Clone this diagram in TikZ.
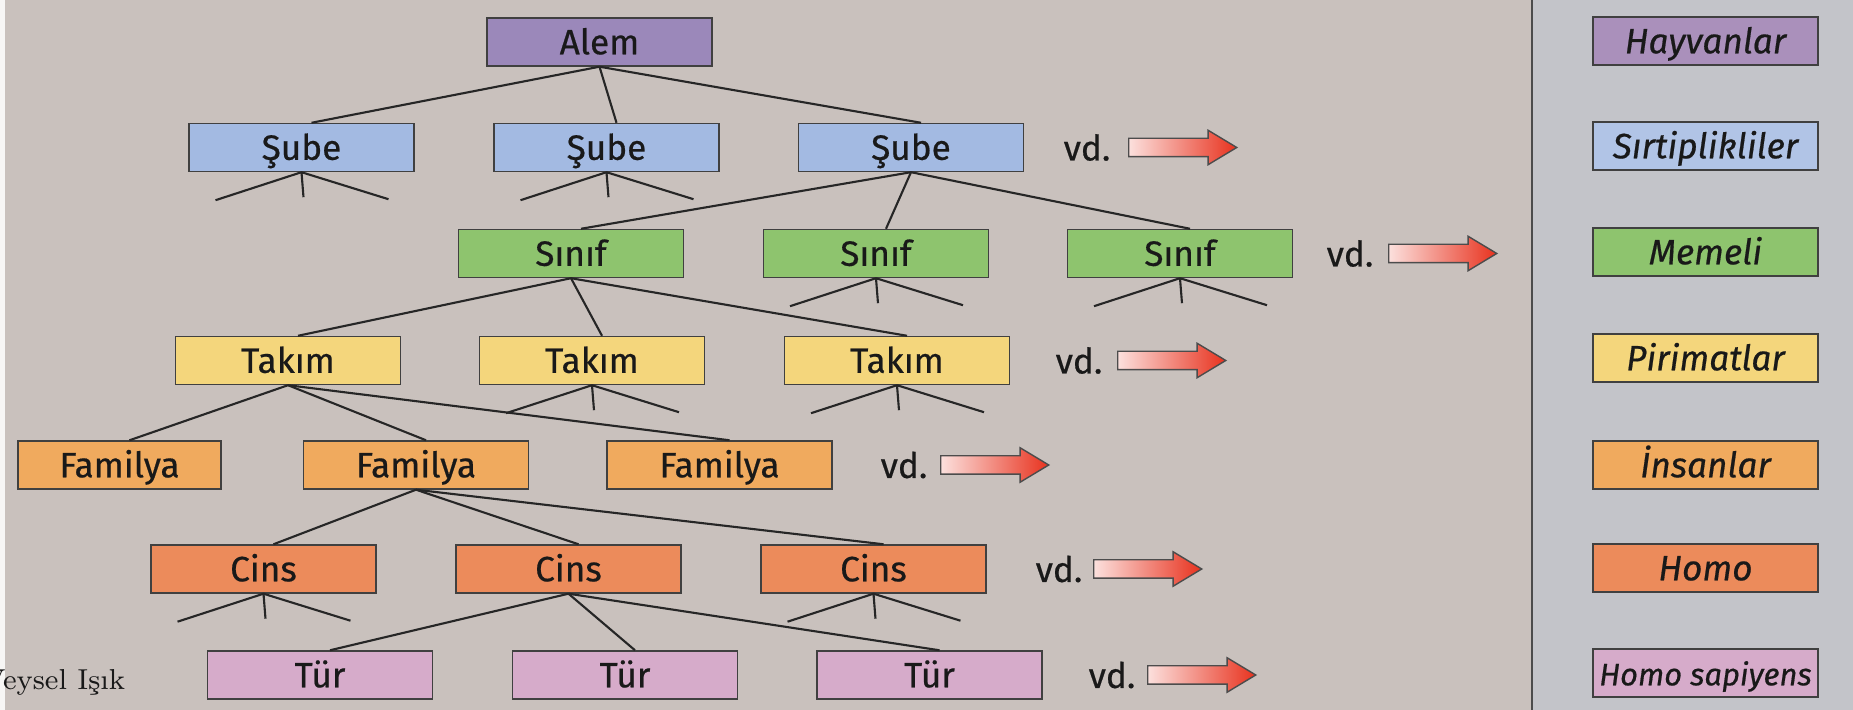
\documentclass[tikz,border=0pt]{standalone}
\usepackage{fontspec}
\usetikzlibrary{shapes.arrows}
\newfontfamily\boxfont{Fira Sans}[FakeBold=0.5]

\definecolor{bg}{HTML}{C9C1BD}
\definecolor{panel}{HTML}{C3C4C9}
\definecolor{alemc}{HTML}{9B88BA}
\definecolor{subec}{HTML}{A3BAE2}
\definecolor{sinifc}{HTML}{8EC46E}
\definecolor{takimc}{HTML}{F4D67C}
\definecolor{familc}{HTML}{F0AA5E}
\definecolor{cinsc}{HTML}{EC8B5B}
\definecolor{turc}{HTML}{D6ABCA}
\definecolor{vdred}{HTML}{E8321E}

\begin{document}
\begin{tikzpicture}[x=0.01cm, y=-0.01cm,
    every node/.style={font=\boxfont\fontsize{10}{12}\selectfont, text=black!90},
    box/.style={draw=black!75, line width=0.4pt, minimum width=2.25cm, minimum height=0.48cm,
        inner sep=0pt, text height=8pt, text depth=1pt},
    leg/.style={box, font=\boxfont\itshape\fontsize{10}{12}\selectfont},
    tline/.style={line width=0.6pt, black!85},
    vd/.style={anchor=west, inner sep=0pt},
    more/.style={single arrow, anchor=west, draw=black!70, line width=0.4pt,
        left color=white!85!vdred, right color=vdred, inner xsep=0pt, inner ysep=0.085cm,
        minimum height=1.08cm, single arrow head extend=0.08cm, single arrow tip angle=62}]

    \useasboundingbox (0,0) rectangle (1853,710);
    \fill[bg] (0,0) rectangle (1533,710);
    \fill[panel] (1533,0) rectangle (1853,710);
    \fill[white!85!bg] (0,0) rectangle (5,710);
    \draw[line width=0.7pt, black!70] (1532,0) -- (1532,710);

    \node[box, fill=alemc] (al) at (599.5,42) {Alem};

    \node[box, fill=subec] (sb1) at (301.5,147.5) {Şube};
    \node[box, fill=subec] (sb2) at (606.5,147.5) {Şube};
    \node[box, fill=subec] (sb3) at (911,147.5) {Şube};

    \node[box, fill=sinifc] (sf1) at (571,253.5) {Sınıf};
    \node[box, fill=sinifc] (sf2) at (876,253.5) {Sınıf};
    \node[box, fill=sinifc] (sf3) at (1180,253.5) {Sınıf};

    \node[box, fill=takimc] (tk1) at (288,360.5) {Takım};
    \node[box, fill=takimc] (tk2) at (592,360.5) {Takım};
    \node[box, fill=takimc] (tk3) at (897,360.5) {Takım};

    \node[box, fill=familc, minimum width=2.03cm] (fm1) at (119.5,465) {Familya};
    \node[box, fill=familc] (fm2) at (416,465) {Familya};
    \node[box, fill=familc] (fm3) at (719.5,465) {Familya};

    \node[box, fill=cinsc] (cn1) at (263.5,569) {Cins};
    \node[box, fill=cinsc] (cn2) at (568.5,569) {Cins};
    \node[box, fill=cinsc] (cn3) at (873.5,569) {Cins};

    \node[box, fill=turc] (tr1) at (320,675) {Tür};
    \node[box, fill=turc] (tr2) at (625,675) {Tür};
    \node[box, fill=turc] (tr3) at (929.5,675) {Tür};

    % tree
    \foreach \p/\cs in {al/{sb1,sb2,sb3}, sb3/{sf1,sf2,sf3}, sf1/{tk1,tk2,tk3},
                        tk1/{fm1,fm2,fm3}, fm2/{cn1,cn2,cn3}, cn2/{tr1,tr2,tr3}}
        \foreach \c in \cs
            \draw[tline] (\p.south) -- ([xshift=0.1cm]\c.north);

    \foreach \n in {sb1,sb2,sf2,sf3,tk2,tk3,cn1,cn3}
        \draw[tline] (\n.south) -- +(-86,28) (\n.south) -- +(2,25) (\n.south) -- +(87,27);

    % vd.
    \node[vd] (v2) at (1063,147.5) {vd.};
    \node[vd] (v3) at (1326,253.5) {vd.};
    \node[vd] (v4) at (1055,360.5) {vd.};
    \node[vd] (v5) at (880,465) {vd.};
    \node[vd] (v6) at (1035,569) {vd.};
    \node[vd] (v7) at (1088,675) {vd.};

    \node[more] (m2) at (1128,147.5) {};
    \node[more] (m3) at (1388,253.5) {};
    \node[more] (m4) at (1117,360.5) {};
    \node[more] (m5) at (940,465) {};
    \node[more] (m6) at (1093,569) {};
    \node[more] (m7) at (1147,675) {};

    % legend
    \node[leg, fill=alemc!85!pink] (l1) at (1705.5,41) {Hayvanlar};
    \node[leg, fill=subec!85!white] (l2) at (1705.5,146) {Sırtiplikliler};
    \node[leg, fill=sinifc] (l3) at (1705.5,252) {Memeli};
    \node[leg, fill=takimc] (l4) at (1705.5,358) {Pirimatlar};
    \node[leg, fill=familc] (l5) at (1705.5,465) {İnsanlar};
    \node[leg, fill=cinsc] (l6) at (1705.5,568) {Homo};
    \node[leg, fill=turc, font=\boxfont\itshape\fontsize{8.8}{11}\selectfont] (l7) at (1705.5,673) {Homo sapiyens};

    \node[anchor=base west, inner sep=0pt, font=\rmfamily\fontsize{8.2}{10}\selectfont] (ws) at (-18,690) {Veysel Işık};
\end{tikzpicture}
\end{document}
